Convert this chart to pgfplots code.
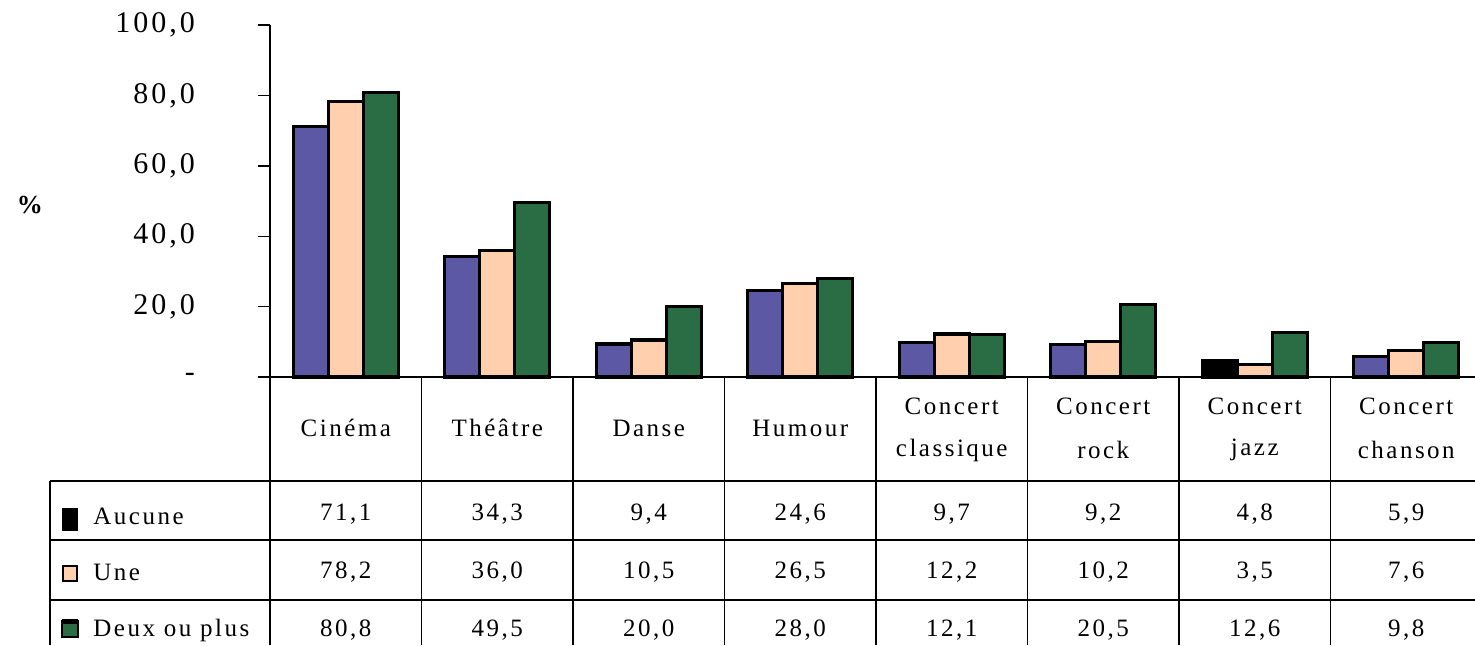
\documentclass[border=0pt]{standalone}
\usepackage{fontspec}
\setmainfont{Liberation Serif}[LetterSpace=10]
\usepackage{pgfplots}
\pgfplotsset{compat=1.18}
\definecolor{cA}{RGB}{92,88,163}
\definecolor{cB}{RGB}{255,207,174}
\definecolor{cC}{RGB}{42,108,68}
\begin{document}
\begin{tikzpicture}[x=0.5pt,y=0.5pt]
\useasboundingbox (0,0) rectangle (1475,645);
\begin{axis}[
  at={(135pt,134pt)}, anchor=south west,
  scale only axis, width=606pt, height=176pt,
  xmin=-0.5, xmax=7.5, ymin=0, ymax=100,
  axis x line*=bottom, axis y line*=left,
  xtick=\empty,
  ytick={0,20,40,60,80,100},
  yticklabels={{-},{20,0},{40,0},{60,0},{80,0},{100,0}},
  /pgf/number format/assume math mode=true,
  tick align=outside, major tick length=6pt,
  y tick label style={font=\fontsize{15}{17}\selectfont, xshift=-28pt},
  axis line style={line width=0.7pt, black},
  tick style={line width=0.7pt, black},
  ybar, bar width=17.5pt, clip=false,
]
\addplot[ybar, fill=cA, draw=black, line width=1.6pt, bar shift=-17.5pt] coordinates {(0,71.1) (1,34.3) (2,9.4) (3,24.6) (4,9.7) (5,9.2) (6,4.8) (7,5.9)};
\addplot[ybar, fill=black, draw=black, line width=1.6pt, bar shift=-17.5pt, forget plot] coordinates {(6,4.8)};
\addplot[ybar, fill=cB, draw=black, line width=1.6pt, bar shift=0pt] coordinates {(0,78.2) (1,36.0) (2,10.5) (3,26.5) (4,12.2) (5,10.2) (6,3.5) (7,7.6)};
\addplot[ybar, fill=cC, draw=black, line width=1.6pt, bar shift=17.5pt] coordinates {(0,80.8) (1,49.5) (2,20.0) (3,28.0) (4,12.1) (5,20.5) (6,12.6) (7,9.8)};
\end{axis}
% table grid
\begin{scope}[line width=0.7pt]
\draw (270,268) -- (270,0);
\foreach \k in {1,...,8} { \draw ({270+151.5*\k},268) -- ({270+151.5*\k},0); }
\draw (50,164) -- (1475,164);
\draw (50,105) -- (1475,105);
\draw (50,45) -- (1475,45);
\draw (50,164) -- (50,0);
\end{scope}
% y label
\node[font=\bfseries\fontsize{13}{15}\selectfont] at (30,440) {\%};
% categories
\begin{scope}[every node/.style={font=\fontsize{12.5}{14}\selectfont, inner sep=0pt}]
\node at (345.75,217) {Cinéma};
\node at (497.25,217) {Théâtre};
\node at (648.75,217) {Danse};
\node at (800.25,217) {Humour};
\node at (951.75,239) {Concert}; \node at (951.75,195) {classique};
\node at (1103.25,239) {Concert}; \node at (1103.25,195) {rock};
\node at (1254.75,239) {Concert}; \node at (1254.75,195) {jazz};
\node at (1406.25,239) {Concert}; \node at (1406.25,195) {chanson};
% row labels
\node[anchor=west] at (93,129) {Aucune};
\node[anchor=west] at (93,73) {Une};
\node[anchor=west] at (93,15) {Deux ou plus};
% values
\node at (345.75,131) {71,1}; \node at (497.25,131) {34,3}; \node at (648.75,131) {9,4}; \node at (800.25,131) {24,6};
\node at (951.75,131) {9,7}; \node at (1103.25,131) {9,2}; \node at (1254.75,131) {4,8}; \node at (1406.25,131) {5,9};
\node at (345.75,73) {78,2}; \node at (497.25,73) {36,0}; \node at (648.75,73) {10,5}; \node at (800.25,73) {26,5};
\node at (951.75,73) {12,2}; \node at (1103.25,73) {10,2}; \node at (1254.75,73) {3,5}; \node at (1406.25,73) {7,6};
\node at (345.75,15) {80,8}; \node at (497.25,15) {49,5}; \node at (648.75,15) {20,0}; \node at (800.25,15) {28,0};
\node at (951.75,15) {12,1}; \node at (1103.25,15) {20,5}; \node at (1254.75,15) {12,6}; \node at (1406.25,15) {9,8};
\end{scope}
% legend keys
\fill[black] (62,137) rectangle (78,114);
\draw[fill=cB, line width=1.4pt] (63,79) rectangle (77,64);
\draw[fill=cC, line width=1.2pt] (62,24) rectangle (78,8);
\fill[black] (62,26) rectangle (78,21);
\end{tikzpicture}
\end{document}
